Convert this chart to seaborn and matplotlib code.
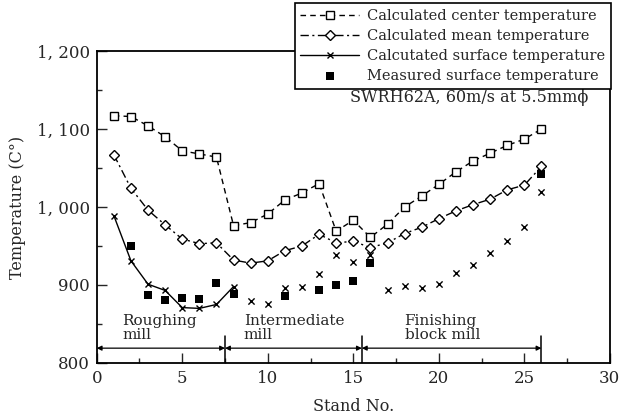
import numpy as np
import pandas as pd
import matplotlib
matplotlib.use("Agg")
import matplotlib.pyplot as plt
import seaborn as sns
from matplotlib.ticker import MultipleLocator, FuncFormatter

# ---- data ----
stands = list(range(1, 27))
center_temp = [1117, 1116, 1104, 1090, 1072, 1068, 1064, 976, 980, 991, 1009, 1018, 1030,
               969, 983, 961, 978, 1000, 1014, 1029, 1045, 1059, 1069, 1079, 1087, 1100]
mean_temp = [1067, 1024, 996, 977, 959, 953, 954, 932, 928, 931, 944, 950, 965,
             954, 956, 948, 954, 966, 974, 985, 995, 1003, 1010, 1022, 1028, 1052]
surface_temp = [989, 931, 901, 893, 871, 870, 875, 898, 879, 875, 896, 898, 914,
                939, 930, 938, 894, 899, 896, 901, 916, 926, 941, 956, 974, 1019]
measured_stands = [2, 3, 4, 5, 6, 7, 8, 11, 13, 14, 15, 16, 26]
measured_temp = [950, 887, 881, 883, 882, 902, 888, 886, 893, 900, 905, 928, 1042]

mill_bounds = [0, 7.5, 15.5, 26]
mill_names = ["Roughing\nmill", "Intermediate\nmill", "Finishing\nblock mill"]
mill_text_x = [1.5, 8.6, 18.0]

legend_labels = ["Calculated center temperature", "Calculated mean temperature",
                 "Calcutated surface temperature", "Measured surface temperature"]

sns.set_style("ticks")
plt.rcParams["font.family"] = ["DejaVu Serif"]

fig = plt.figure(figsize=(6.22, 4.19), dpi=100)
ax = fig.add_axes([0.1555, 0.1337, 0.825, 0.7446])

df = pd.DataFrame({"stand": stands, "center": center_temp, "mean": mean_temp,
                   "surface": surface_temp})
dm = pd.DataFrame({"stand": measured_stands, "temp": measured_temp})
n_rough = 8
df_rough = df[df["stand"] <= n_rough]
df_rest = df[df["stand"] > n_rough]

sns.lineplot(data=df, x="stand", y="center", ax=ax, color="black", lw=1.0,
             ls=(0, (4, 3)), marker="s", markersize=5.5, markerfacecolor="white",
             markeredgecolor="black", markeredgewidth=1.0, errorbar=None,
             label=legend_labels[0])
sns.lineplot(data=df, x="stand", y="mean", ax=ax, color="black", lw=1.0,
             ls=(0, (6, 2.5, 1.5, 2.5)), marker="D", markersize=4.8, markerfacecolor="white",
             markeredgecolor="black", markeredgewidth=1.0, errorbar=None,
             label=legend_labels[1])
sns.lineplot(data=df_rough, x="stand", y="surface", ax=ax, color="black", lw=1.0,
             ls="-", marker="x", markersize=4.5, markeredgecolor="black",
             markeredgewidth=1.0, errorbar=None, label=legend_labels[2])
sns.scatterplot(data=df_rest, x="stand", y="surface", ax=ax, color="black",
                marker="x", s=20, linewidth=1.0, legend=False)
sns.scatterplot(data=dm, x="stand", y="temp", ax=ax, color="black", marker="s",
                s=28, linewidth=0, label=legend_labels[3])

ax.set_xlim(0, 30)
ax.set_ylim(800, 1200)
ax.xaxis.set_major_locator(MultipleLocator(5))
ax.xaxis.set_minor_locator(MultipleLocator(2.5))
ax.yaxis.set_major_locator(MultipleLocator(100))
ax.yaxis.set_minor_locator(MultipleLocator(50))
ax.yaxis.set_major_formatter(FuncFormatter(lambda v, p: f"{int(v):,}".replace(",", ", ")))
ax.tick_params(which="major", direction="in", length=7, width=1.0, labelsize=12, pad=5)
ax.tick_params(which="minor", direction="in", length=3.5, width=1.0)
for s in ax.spines.values():
    s.set_linewidth(1.3)
    s.set_color("black")

ax.set_xlabel("Stand No.", fontsize=11.5, labelpad=8)
ax.set_ylabel("Temperature (C°)", fontsize=11.5, labelpad=8)

# mill sections
arrow_y = 819
for a, b in zip(mill_bounds[:-1], mill_bounds[1:]):
    ax.annotate("", xy=(a, arrow_y), xytext=(b, arrow_y),
                arrowprops=dict(arrowstyle="<|-|>", lw=0.9, color="black",
                                shrinkA=0, shrinkB=0, mutation_scale=7))
for b in mill_bounds[1:]:
    ax.plot([b, b], [800, 834], color="black", lw=1.1)
for name, tx in zip(mill_names, mill_text_x):
    ax.text(tx, 845, name, fontsize=11, va="center", ha="left", linespacing=0.95)

ax.text(14.8, 1141, "SWRH62A, 60m/s at 5.5mmϕ", fontsize=11.5, va="center", ha="left")

h, l = ax.get_legend_handles_labels()
leg = ax.legend(h, l, loc="upper right", bbox_to_anchor=(1.003, 1.154), borderaxespad=0,
                frameon=True, fancybox=False, edgecolor="black", framealpha=1,
                fontsize=10.5, handlelength=4.0, handletextpad=0.6,
                labelspacing=0.42, borderpad=0.4)
leg.get_frame().set_linewidth(1.2)

fig.savefig("out.png", dpi=100)
